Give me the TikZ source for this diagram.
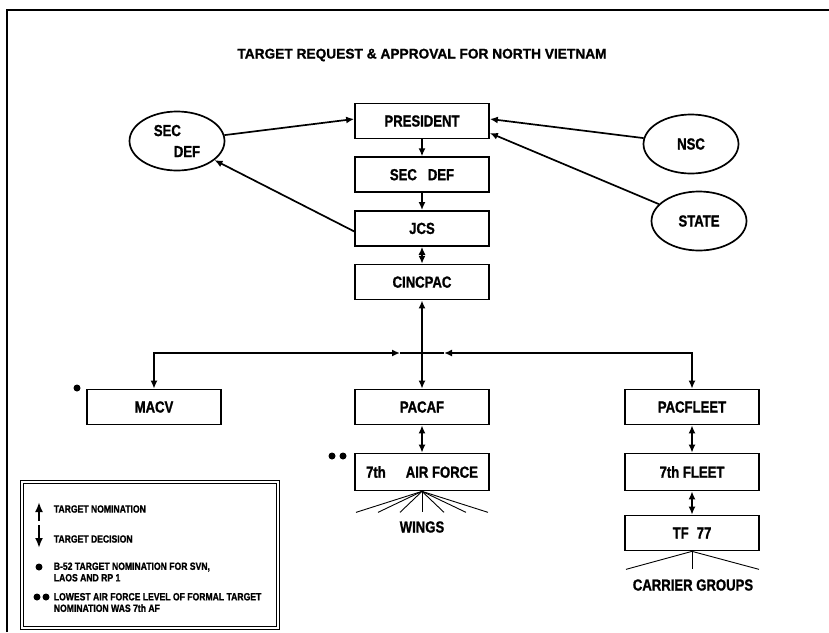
\documentclass[tikz,border=0pt]{standalone}
\usepackage{fontspec}
\setmainfont{Liberation Sans}[FakeStretch=0.82, BoldFeatures={FakeBold=1.2}]
\newfontfamily\titlefont{Liberation Sans}[FakeStretch=0.98, BoldFeatures={FakeBold=1.2}]
\usetikzlibrary{shapes,arrows.meta,positioning}
\tikzset{
    ->,>={Latex[length=8pt,width=7pt]},node distance=17pt,
    unit/.style={rectangle, draw, minimum width=134pt, minimum height=35pt, inner sep=0pt, font=\fontsize{16}{20}\selectfont\bfseries},
    agency/.style={ellipse, draw, minimum width=95pt, minimum height=59pt, inner sep=0pt, font=\fontsize{16}{21}\selectfont\bfseries},
    caption/.style={font=\fontsize{16}{20}\selectfont\bfseries},
    key/.style={anchor=west, align=left, inner sep=0pt, font=\fontsize{10.5}{11.5}\selectfont\bfseries},
    dot/.style={circle, fill, inner sep=0pt, minimum size=7pt, node contents={}},
    fan/.style={-, line width=0.9pt}
}

\begin{document}
\begin{tikzpicture}[x=1pt,y=-1pt,line width=1.7pt]
    \useasboundingbox (0,0) rectangle (829,632);
    \draw[-,line width=2pt] (7,632) -- (7,10) -- (829,10);
    \node (0) at (422,55) {\titlefont\fontsize{14}{16}\selectfont\bfseries TARGET REQUEST \& APPROVAL FOR NORTH VIETNAM};

    \node (1) [unit] at (422,121) {PRESIDENT};
    \node (2) [unit, below = of 1] {SEC\hspace{11pt}DEF};
    \node (3) [unit, below = of 2] {JCS};
    \node (4) [unit, below = of 3] {CINCPAC};
    \node (5) [agency, align=left] at (177,141) {SEC\\\hspace*{20pt}DEF};
    \node (6) [agency] at (691,144) {NSC};
    \node (7) [agency] at (699,221) {STATE};
    \node (8) [unit] at (154,407) {MACV};
    \node (9) [unit] at (422,407) {PACAF};
    \node (10) [unit, minimum height=37pt] at (422,472) {7th\hspace{20pt}AIR FORCE};
    \node (11) [unit] at (692,407) {PACFLEET};
    \node (12) [unit, minimum height=37pt] at (692,472) {7th FLEET};
    \node (13) [unit] at (692,533) {TF\hspace{8pt}77};
    \node (14) [caption] at (422,527) {WINGS};
    \node (15) [caption] at (693,585) {CARRIER GROUPS};

    \draw (1) -- (2);
    \draw (2) -- (3);
    \draw[<->] (3) -- (4);
    \draw[<->] (4) -- (9);
    \draw (5) -- ([yshift=2pt]1.west);
    \draw ([yshift=-3pt]3.west) -- (5);
    \draw (6) -- ([yshift=2pt]1.east);
    \draw (7) -- ([yshift=-12pt]1.east);

    \coordinate (16) at (400,353);
    \coordinate (17) at (444,353);
    \draw[<->] (8.north) |- (16);
    \draw[<->] (11.north) |- (17);
    \draw[-] (16) -- (17);
    \draw[<->] (9) -- (10);
    \draw[<->] (11) -- (12);
    \draw[<->] (12) -- (13);

    \foreach \dx in {-66,-44,-22,0,22,44,66}
        \draw[fan] (10.south) -- ++(\dx,21);
    \foreach \dx in {-66,0,67}
        \draw[fan] (13.south) -- ++(\dx,18);

    \node (18) at (77,388) [dot];
    \node (19) at (332,456) [dot];
    \node (20) at (343,456) [dot];

    % legend
    \draw[-, line width=1pt, double, double distance=2pt] (22,482) rectangle (278,628);
    \coordinate (21) at (39,521);
    \coordinate (22) at (39,502);
    \coordinate (23) at (39,525);
    \coordinate (24) at (39,548);
    \draw[-{Latex[length=10pt,width=8pt]}, line width=2.2pt] (21) -- (22);
    \draw[-{Latex[length=10pt,width=8pt]}, line width=2.2pt] (23) -- (24);
    \node (25) [key] at (53,509) {TARGET NOMINATION};
    \node (26) [key] at (53,539) {TARGET DECISION};
    \node (27) at (39,567) [dot];
    \node (28) [key] at (53,572) {B-52 TARGET NOMINATION FOR SVN,\\LAOS AND RP 1};
    \node (29) at (37,597) [dot];
    \node (30) at (46,597) [dot];
    \node (31) [key] at (53,602.5) {LOWEST AIR FORCE LEVEL OF FORMAL TARGET\\NOMINATION WAS 7th AF};
\end{tikzpicture}
\end{document}
